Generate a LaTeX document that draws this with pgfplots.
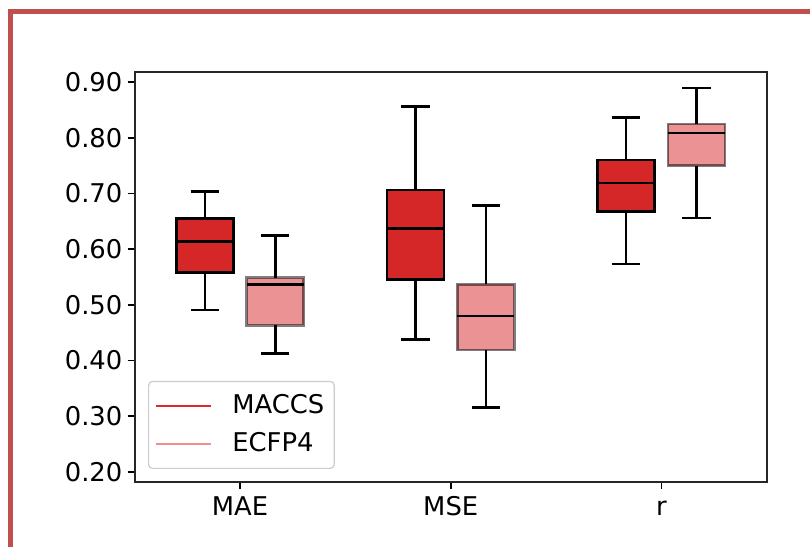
\documentclass[border=0pt]{standalone}
\usepackage{pgfplots}
\pgfplotsset{compat=1.18}
\usepgfplotslibrary{statistics}
\usepackage{fontspec}
\setmainfont{DejaVu Sans}
\definecolor{maccs}{HTML}{D62728}
\definecolor{ecfp}{HTML}{EB9394}
\definecolor{maccsline}{HTML}{E0282B}
\definecolor{ecfpline}{HTML}{EE8E90}
\definecolor{framered}{HTML}{C0504D}
\begin{document}
\fontsize{12.9bp}{15bp}\selectfont
\begin{tikzpicture}
\useasboundingbox (0,0) rectangle (405bp,273.5bp);
\begin{scope}
\clip (0,0) rectangle (405bp,273.5bp);
\draw[framered, line width=2.2bp] (5.15bp,-10bp) -- (5.15bp,267.65bp) -- (420bp,267.65bp);
\end{scope}
\begin{axis}[
  at={(67.35bp,32.5bp)}, anchor=south west,
  scale only axis, width=316bp, height=205.15bp,
  xmin=-0.5, xmax=2.5, ymin=0.1815, ymax=0.919,
  xtick={0,1,2}, xticklabels={MAE,MSE,r},
  ytick={0.2,0.3,0.4,0.5,0.6,0.7,0.8,0.9},
  yticklabel style={/pgf/number format/fixed, /pgf/number format/fixed zerofill, /pgf/number format/precision=2},
  /pgf/number format/assume math mode=true,
  tick align=outside, tick pos=left, major tick length=3.5bp,
  every tick/.style={black, line width=0.8bp},
  axis line style={black!85, line width=0.9bp},
  xticklabel style={anchor=north, text height=9.4bp, inner sep=0pt, yshift=-3.5bp},
  yticklabel style={anchor=east, inner sep=0pt, xshift=-2.5bp},
  tick label style={font=\fontsize{12.9bp}{15bp}\selectfont},
  boxplot/draw direction=y,
  legend style={at={(axis description cs:0,0)}, anchor=south west, xshift=6.65bp, yshift=6.5bp,
    draw=black!20, line width=0.6bp, rounded corners=2bp, fill=white,
    inner xsep=3bp, inner ysep=4.5bp, row sep=3.5bp,
    font=\fontsize{12.9bp}{15bp}\selectfont,
    /tikz/every odd column/.append style={column sep=8.5bp}},
  legend cell align=left,
  legend image code/.code={\draw[#1, line width=0.9bp] (0bp,0bp) -- (27.5bp,0bp);},
]
% MACCS
\addplot[forget plot, boxplot prepared={draw direction=y, draw position=-0.167,
  lower whisker=0.491, lower quartile=0.558, median=0.614, upper quartile=0.655, upper whisker=0.704,
  box extend=0.27, whisker extend=0.135,
  every box/.style={draw=black, fill=maccs, line width=1.3bp},
  every whisker/.style={draw=black, line width=1.3bp},
  every median/.style={draw=black, line width=1.3bp}}] coordinates {};
\addplot[forget plot, boxplot prepared={draw direction=y, draw position=0.833,
  lower whisker=0.438, lower quartile=0.545, median=0.637, upper quartile=0.706, upper whisker=0.856,
  box extend=0.27, whisker extend=0.135,
  every box/.style={draw=black, fill=maccs, line width=1.3bp},
  every whisker/.style={draw=black, line width=1.3bp},
  every median/.style={draw=black, line width=1.3bp}}] coordinates {};
\addplot[forget plot, boxplot prepared={draw direction=y, draw position=1.833,
  lower whisker=0.573, lower quartile=0.668, median=0.719, upper quartile=0.760, upper whisker=0.837,
  box extend=0.27, whisker extend=0.135,
  every box/.style={draw=black, fill=maccs, line width=1.3bp},
  every whisker/.style={draw=black, line width=1.3bp},
  every median/.style={draw=black, line width=1.3bp}}] coordinates {};
% ECFP4
\addplot[forget plot, boxplot prepared={draw direction=y, draw position=0.167,
  lower whisker=0.412, lower quartile=0.463, median=0.536, upper quartile=0.549, upper whisker=0.625,
  box extend=0.27, whisker extend=0.135,
  every box/.style={draw=black, draw opacity=0.5, fill=ecfp, line width=1.3bp},
  every whisker/.style={draw=black, line width=1.3bp},
  every median/.style={draw=black, line width=1.3bp}}] coordinates {};
\addplot[forget plot, boxplot prepared={draw direction=y, draw position=1.167,
  lower whisker=0.315, lower quartile=0.419, median=0.480, upper quartile=0.537, upper whisker=0.679,
  box extend=0.27, whisker extend=0.135,
  every box/.style={draw=black, draw opacity=0.5, fill=ecfp, line width=1.3bp},
  every whisker/.style={draw=black, line width=1.3bp},
  every median/.style={draw=black, line width=1.3bp}}] coordinates {};
\addplot[forget plot, boxplot prepared={draw direction=y, draw position=2.167,
  lower whisker=0.656, lower quartile=0.750, median=0.809, upper quartile=0.825, upper whisker=0.890,
  box extend=0.27, whisker extend=0.135,
  every box/.style={draw=black, draw opacity=0.5, fill=ecfp, line width=1.3bp},
  every whisker/.style={draw=black, line width=1.3bp},
  every median/.style={draw=black, line width=1.3bp}}] coordinates {};
\addlegendimage{maccsline}
\addlegendentry{MACCS}
\addlegendimage{ecfpline}
\addlegendentry{ECFP4}
\end{axis}
\end{tikzpicture}
\end{document}
